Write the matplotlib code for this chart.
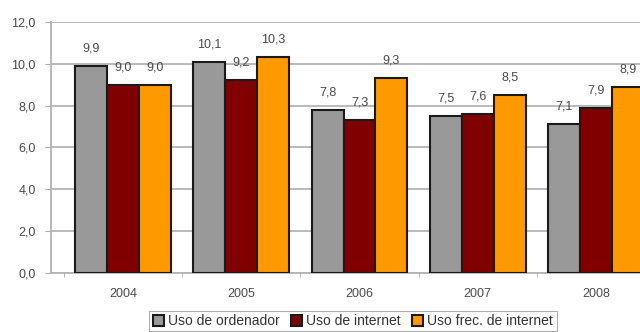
import numpy as np
import matplotlib
matplotlib.use("Agg")
from matplotlib import pyplot as plt

years = ["2004", "2005", "2006", "2007", "2008"]
series_names = ["Uso de ordenador", "Uso de internet", "Uso frec. de internet"]
ordenador = [9.9, 10.1, 7.8, 7.5, 7.1]
internet = [9.0, 9.2, 7.3, 7.6, 7.9]
frecuente = [9.0, 10.3, 9.3, 8.5, 8.9]
colors = ["#999999", "#800000", "#FF9900"]

plt.rcParams["font.family"] = ["Liberation Sans", "DejaVu Sans"]


def fmt(v):
    return f"{v:.1f}".replace(".", ",")


def chart():
    fig = plt.figure(figsize=(6.4, 3.32), dpi=100)
    ax = fig.add_axes([0.0797, 0.178, 0.964, 0.756])

    x = np.arange(len(years))
    w = 0.27
    data = [ordenador, internet, frecuente]
    for i, (vals, name) in enumerate(zip(data, series_names)):
        pos = x + (i - 1) * w
        bars = ax.bar(pos, vals, w, color=colors[i], edgecolor="#1a1a1a",
                      linewidth=1.5, label=name, zorder=3)
        for b, v in zip(bars, vals):
            ax.text(b.get_x() + b.get_width() / 2, v + 0.55, fmt(v),
                    ha="center", va="bottom", fontsize=9, color="#4a4a4a")

    ax.set_ylim(0, 12)
    ax.set_xlim(-0.61, 4.61)
    ax.set_yticks(np.arange(0, 12.1, 2))
    ax.set_yticklabels([fmt(v) for v in np.arange(0, 12.1, 2)],
                       fontsize=9, color="#4a4a4a")
    ax.set_xticks(x)
    ax.set_xticklabels(years, fontsize=9, color="#4a4a4a")
    ax.set_xticks(np.arange(-0.5, 5, 1), minor=True)
    ax.tick_params(axis="x", which="major", length=0, pad=11)
    ax.tick_params(axis="x", which="minor", length=3, color="#aaaaaa")
    ax.tick_params(axis="y", length=4, color="#aaaaaa", pad=7)

    ax.grid(axis="y", color="#b4b4b4", linewidth=1.3, zorder=0)
    for s in ["top", "right"]:
        ax.spines[s].set_visible(False)
    ax.spines["left"].set_color("#b4b4b4")
    ax.spines["bottom"].set_color("#b4b4b4")
    ax.spines["left"].set_linewidth(1.3)
    ax.spines["bottom"].set_linewidth(1.3)

    leg = ax.legend(loc="upper center", bbox_to_anchor=(0.5, -0.15), ncol=3,
                    fontsize=10, frameon=True, fancybox=False,
                    handlelength=0.8, handleheight=0.8, handletextpad=0.3,
                    columnspacing=0.8, borderpad=0.25, borderaxespad=0)
    leg.get_frame().set_edgecolor("#999999")
    leg.get_frame().set_linewidth(0.8)
    for t in leg.get_texts():
        t.set_color("#333333")

    # keep the legend centred in the visible part of the figure
    fig.canvas.draw()
    bb = leg.get_window_extent()
    cx = 353.0
    shift = (cx - (bb.x0 + bb.x1) / 2) / ax.bbox.width
    leg.set_bbox_to_anchor((0.5 + shift, -0.15), transform=ax.transAxes)

    fig.savefig("out.png", dpi=100)


if __name__ == "__main__":
    chart()
